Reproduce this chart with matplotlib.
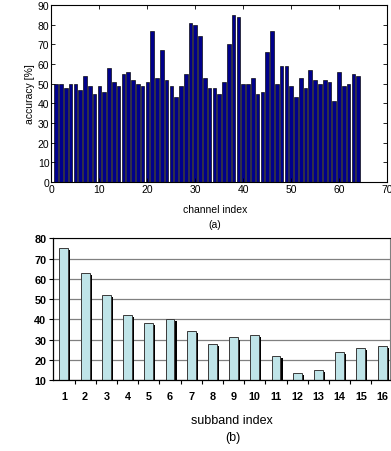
import matplotlib
matplotlib.use("Agg")
import matplotlib.pyplot as plt
import numpy as np

plt.rcParams['font.family'] = ['Liberation Sans', 'DejaVu Sans']

# (a) accuracy per channel
channels = list(range(1, 65))
channel_acc = [50, 50, 48, 50, 50, 47, 54, 49, 45, 49, 46, 58, 51, 49, 55, 56,
               52, 50, 49, 51, 77, 53, 67, 52, 49, 43, 49, 55, 81, 80, 74, 53,
               48, 48, 45, 51, 70, 85, 84, 50, 50, 53, 45, 46, 66, 77, 50, 59,
               59, 49, 43, 53, 48, 57, 52, 50, 52, 51, 41, 56, 49, 50, 55, 54]

# (b) accuracy per subband
subbands = list(range(1, 17))
subband_acc = [75, 63, 52, 42, 38, 40, 34, 28, 31, 32, 22, 13.5, 15, 24, 26, 27]

W, H = 391, 452
fig = plt.figure(figsize=(W / 100, H / 100), dpi=100)

# ---- top chart (matlab look)
ax1 = fig.add_axes([51.5 / W, 1 - 183 / H, (387 - 51.5) / W, (183 - 6) / H])
ax1.bar(channels, channel_acc, width=0.76, color='#00008B',
        edgecolor='black', linewidth=0.45)
ax1.set_xlim(0, 70)
ax1.set_ylim(0, 90)
ax1.set_xticks(range(0, 71, 10))
ax1.set_yticks(range(0, 91, 10))
ax1.tick_params(direction='in', length=3, width=0.6, labelsize=7.5,
                top=True, right=True, pad=1.5)
for s in ax1.spines.values():
    s.set_linewidth(0.8)
ax1.set_ylabel('accuracy [%]', fontsize=7.5, labelpad=2)
fig.text(215 / W, 1 - 210 / H, 'channel index', ha='center', va='center', fontsize=7.5)
fig.text(215 / W, 1 - 225 / H, '(a)', ha='center', va='center', fontsize=7.5)

# ---- bottom chart (excel look)
ax2 = fig.add_axes([53.3 / W, 1 - 381 / H, (389.5 - 53.3) / W, (381 - 239.3) / H])
ax2.set_axisbelow(True)
ax2.grid(axis='y', color='#808080', linewidth=0.9)
sb = np.array(subbands)
sv = np.array(subband_acc)
# shadow behind each bar
ax2.bar(sb + 0.1, sv - 1 - 10, bottom=10, width=0.42, color='black', linewidth=0)
ax2.bar(sb, sv - 10, bottom=10, width=0.42, color='#BFE4E8',
        edgecolor='#3a3a3a', linewidth=0.7)
ax2.set_xlim(0.5, 16.35)
ax2.set_ylim(10, 80)
ax2.set_yticks(range(10, 81, 10))
ax2.set_xticks(subbands)
ax2.set_xticks(np.arange(1.5, 16.5, 1), minor=True)
ax2.tick_params(axis='x', which='major', length=0, pad=8)
ax2.tick_params(axis='x', which='minor', length=3, width=0.8)
ax2.tick_params(axis='y', length=3, width=0.8, pad=2)
for lbl in ax2.get_xticklabels() + ax2.get_yticklabels():
    lbl.set_fontweight('bold')
    lbl.set_fontsize(7.8)
ax2.spines['top'].set_color('black')
ax2.spines['right'].set_color('#808080')
ax2.spines['left'].set_linewidth(0.9)
ax2.spines['bottom'].set_linewidth(0.9)
fig.text(232 / W, 1 - 421 / H, 'subband index', ha='center', va='center', fontsize=9)
fig.text(233 / W, 1 - 438 / H, '(b)', ha='center', va='center', fontsize=9)

fig.savefig('out.png', dpi=100)
